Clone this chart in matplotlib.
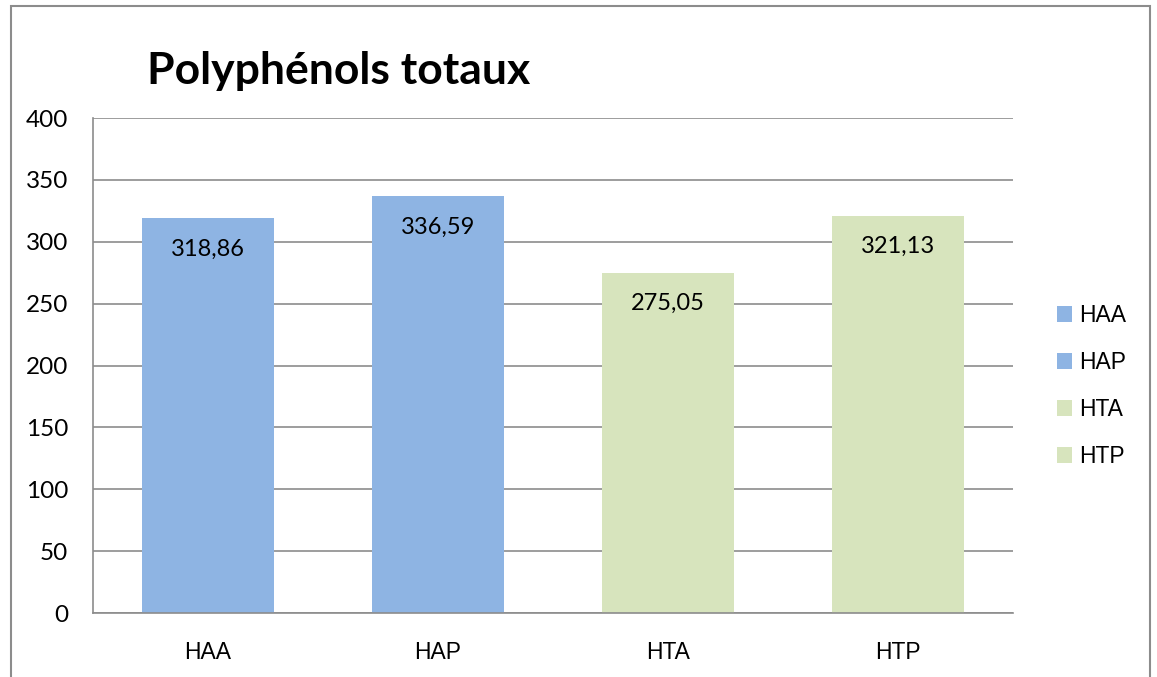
import numpy as np
import matplotlib.pyplot as plt
from matplotlib.patches import Rectangle, Patch

categories = ["HAA", "HAP", "HTA", "HTP"]
values = [318.86, 336.59, 275.05, 321.13]
value_labels = ["318,86", "336,59", "275,05", "321,13"]
colors = ["#8EB4E3", "#8EB4E3", "#D7E4BD", "#D7E4BD"]

W, H = 1157, 677
fig = plt.figure(figsize=(W / 100, H / 100), dpi=100)

# cadre gris autour du graphique
fig.patches.append(Rectangle((11 / W, -0.01), 1139 / W, 1 - 6 / H + 0.01,
                             transform=fig.transFigure, fill=False,
                             edgecolor="#8c8c8c", linewidth=1.5))

ax = fig.add_axes([93 / W, 1 - 613 / H, 920 / W, 495 / H])
x = np.arange(len(categories))
bars = ax.bar(x, values, width=0.574, color=colors, zorder=2)

ax.set_xlim(-0.5, len(categories) - 0.5)
ax.set_ylim(0, 400)
ax.set_yticks(np.arange(0, 401, 50))
ax.yaxis.grid(True, color="#8c8c8c", linewidth=1.2, zorder=0)
ax.set_axisbelow(True)
for s in ["top", "right"]:
    ax.spines[s].set_visible(False)
for s in ["left", "bottom"]:
    ax.spines[s].set_color("#8c8c8c")
    ax.spines[s].set_linewidth(1.2)

ax.tick_params(axis="y", length=0, pad=18, labelsize=17.5)
ax.tick_params(axis="x", length=0, pad=20)
for t in ax.get_yticklabels():
    t.set_family("Lato")
ax.set_xticks(x)
ax.set_xticklabels(categories, family="Liberation Sans", fontsize=16.5)

for xi, v, lab in zip(x, values, value_labels):
    ax.annotate(lab, (xi, v), xytext=(0, -22), textcoords="offset points",
                ha="center", va="center", fontsize=17, family="Lato", zorder=3)

fig.text(147 / W, 1 - 71 / H, "Polyphénols totaux", fontsize=32,
         fontweight="bold", family="Lato", va="center", ha="left")

handles = [Patch(facecolor=c, edgecolor="none") for c in colors]
leg = fig.legend(handles, categories, loc="center left",
                 bbox_to_anchor=(1036 / W, 1 - 386 / H), frameon=False,
                 prop={"family": "Liberation Sans", "size": 16.5},
                 handlelength=0.65, handleheight=0.65, handletextpad=0.35,
                 labelspacing=1.05)

fig.savefig("out.png", dpi=100)
